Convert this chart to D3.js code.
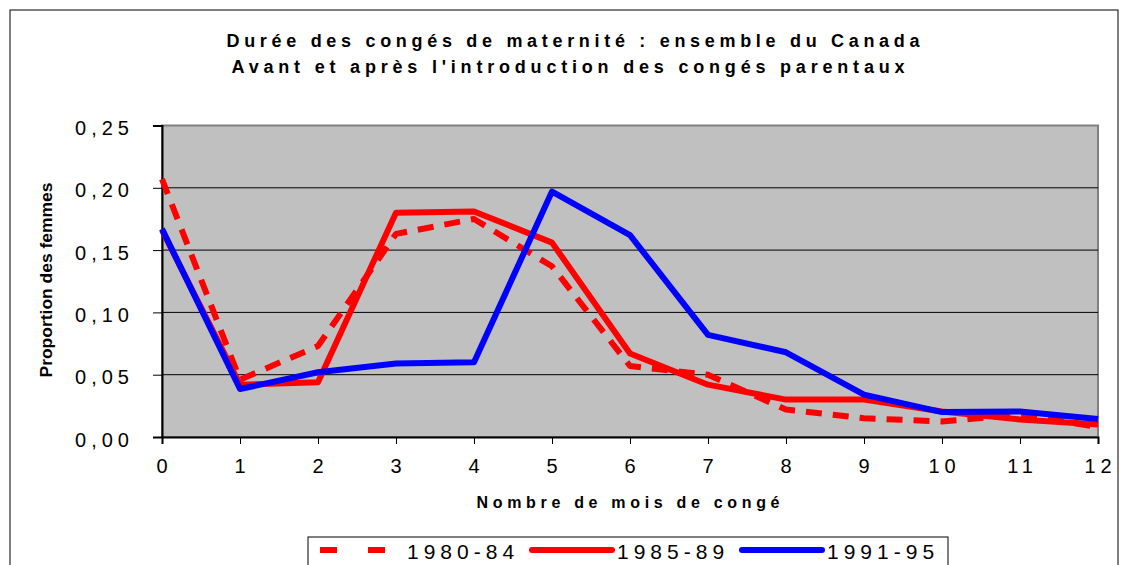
<!DOCTYPE html>
<html>
<head>
<meta charset="utf-8">
<script src="https://cdn.jsdelivr.net/npm/d3@7"></script>
<style>
  body { margin: 0; background: #fff; }
  text { font-family: "Liberation Sans", Arial, sans-serif; fill: #000; }
</style>
</head>
<body>
<div id="chart"></div>
<script>
// months of leave
const months = [0, 1, 2, 3, 4, 5, 6, 7, 8, 9, 10, 11, 12];
const yTicks = [0, 0.05, 0.10, 0.15, 0.20, 0.25];

// proportion of women, per series
const s1980 = [0.207, 0.046, 0.073, 0.163, 0.175, 0.137, 0.057, 0.050, 0.022, 0.015, 0.0125, 0.018, 0.008];
const s1985 = [0.166, 0.042, 0.044, 0.180, 0.181, 0.156, 0.067, 0.042, 0.030, 0.030, 0.0205, 0.014, 0.010];
const s1991 = [0.167, 0.0385, 0.052, 0.059, 0.060, 0.197, 0.162, 0.082, 0.068, 0.034, 0.020, 0.0205, 0.0145];

const series = [
    { name: "1980-84", values: s1980, color: "#ff0000", dash: "16,11" },
    { name: "1985-89", values: s1985, color: "#ff0000", dash: null },
    { name: "1991-95", values: s1991, color: "#0000ff", dash: null }
];

const width = 1127, height = 565;
const svg = d3.select("#chart").append("svg")
    .attr("width", width)
    .attr("height", height);

// outer frame
svg.append("rect")
    .attr("x", 10).attr("y", 10)
    .attr("width", 1108).attr("height", 570)
    .attr("fill", "none")
    .attr("stroke", "#000")
    .attr("stroke-width", 1);

const x = d3.scaleLinear().domain([0, 12]).range([162, 1098]);
const y = d3.scaleLinear().domain([0, 0.25]).range([437, 125.5]);

// plot area
svg.append("rect")
    .attr("x", x(0)).attr("y", y(0.25))
    .attr("width", x(12) - x(0)).attr("height", y(0) - y(0.25))
    .attr("fill", "#c0c0c0")
    .attr("stroke", "#808080")
    .attr("stroke-width", 2);

// gridlines
svg.append("g").selectAll("line")
    .data(yTicks.filter(d => d > 0 && d < 0.25))
    .enter().append("line")
    .attr("x1", x(0)).attr("x2", x(12))
    .attr("y1", d => y(d)).attr("y2", d => y(d))
    .attr("stroke", "#000")
    .attr("stroke-width", 1);

const fmt = d => d3.format(".2f")(d).replace(".", ",");

// y axis
const yAxis = svg.append("g")
    .attr("transform", `translate(${x(0)},0)`)
    .call(d3.axisLeft(y).tickValues(yTicks).tickFormat(fmt).tickSize(9).tickPadding(19));
yAxis.select(".domain").attr("stroke", "#000").attr("stroke-width", 2);
yAxis.selectAll(".tick line").attr("stroke", "#000");
yAxis.selectAll("text")
    .attr("font-size", 20)
    .attr("letter-spacing", 5)
    .attr("dy", "0.45em")
    .attr("fill", "#000");

// x axis
const xAxis = svg.append("g")
    .attr("transform", `translate(0,${y(0)})`)
    .call(d3.axisBottom(x).tickValues(months).tickFormat(d3.format("d")).tickSize(7).tickPadding(15));
xAxis.select(".domain").attr("stroke", "#000").attr("stroke-width", 2);
xAxis.selectAll(".tick line").attr("stroke", "#000");
xAxis.selectAll("text")
    .attr("font-size", 20)
    .attr("letter-spacing", 5)
    .attr("dx", 2)
    .attr("fill", "#000");

// lines
const line = d3.line()
    .x((d, i) => x(months[i]))
    .y(d => y(d));

svg.append("g").selectAll("path")
    .data(series)
    .enter().append("path")
    .attr("d", d => line(d.values))
    .attr("fill", "none")
    .attr("stroke", d => d.color)
    .attr("stroke-width", 6)
    .attr("stroke-dasharray", d => d.dash)
    .attr("stroke-linejoin", "round");

// titles
svg.append("text")
    .attr("x", 573).attr("y", 47)
    .attr("text-anchor", "middle")
    .attr("font-size", 18).attr("font-weight", "bold")
    .attr("textLength", 693).attr("lengthAdjust", "spacing")
    .text("Durée des congés de maternité : ensemble du Canada");
svg.append("text")
    .attr("x", 568).attr("y", 73)
    .attr("text-anchor", "middle")
    .attr("font-size", 18).attr("font-weight", "bold")
    .attr("textLength", 673).attr("lengthAdjust", "spacing")
    .text("Avant et après l'introduction des congés parentaux");

svg.append("text")
    .attr("x", 628).attr("y", 508)
    .attr("text-anchor", "middle")
    .attr("font-size", 16).attr("font-weight", "bold")
    .attr("textLength", 303).attr("lengthAdjust", "spacing")
    .text("Nombre de mois de congé");

svg.append("text")
    .attr("transform", "translate(52,280) rotate(-90)")
    .attr("text-anchor", "middle")
    .attr("font-size", 16).attr("font-weight", "bold")
    .attr("textLength", 195).attr("lengthAdjust", "spacingAndGlyphs")
    .text("Proportion des femmes");

// legend
const legend = svg.append("g");
legend.append("rect")
    .attr("x", 308).attr("y", 537)
    .attr("width", 640).attr("height", 60)
    .attr("fill", "#fff")
    .attr("stroke", "#000");

const legendX = [320, 532, 742];
const items = legend.selectAll("g.item")
    .data(series)
    .enter().append("g")
    .attr("class", "item")
    .attr("transform", (d, i) => `translate(${legendX[i]},550)`);
items.append("line")
    .attr("x1", 0).attr("x2", (d, i) => i === 0 ? 66 : 80)
    .attr("y1", 0).attr("y2", 0)
    .attr("stroke", d => d.color)
    .attr("stroke-width", 6)
    .attr("stroke-linecap", d => d.dash ? "butt" : "round")
    .attr("stroke-dasharray", d => d.dash ? "17,31" : null);
items.append("text")
    .attr("x", (d, i) => i === 0 ? 87 : 85)
    .attr("y", 9)
    .attr("font-size", 21)
    .attr("letter-spacing", 5)
    .text(d => d.name);
</script>
</body>
</html>
